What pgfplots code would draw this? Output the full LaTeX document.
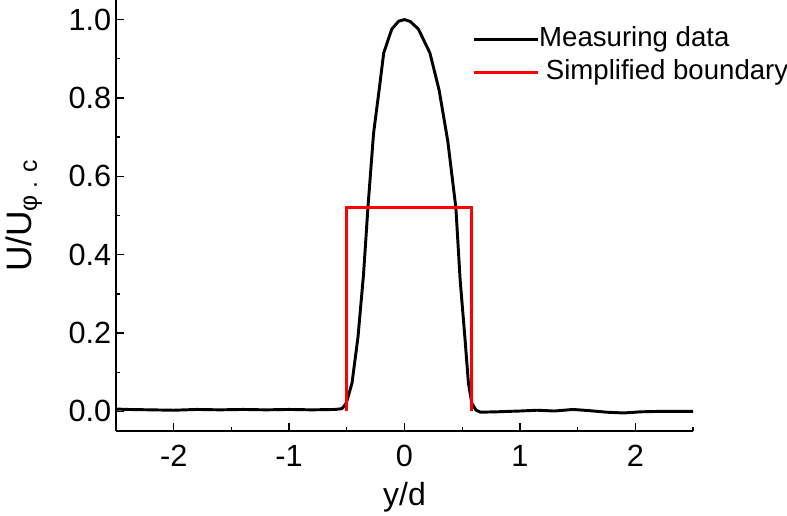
\documentclass[border=0pt]{standalone}
\usepackage{fontspec}
\setmainfont{Liberation Sans}
\usepackage{pgfplots}
\pgfplotsset{compat=1.18}

\pgfplotstableread{
x y
-2.50 0.006
-2.40 0.005
-2.20 0.004
-2.00 0.003
-1.80 0.005
-1.60 0.004
-1.40 0.005
-1.20 0.004
-1.00 0.005
-0.80 0.004
-0.60 0.005
-0.542 0.007
-0.505 0.021
-0.455 0.072
-0.403 0.19
-0.355 0.35
-0.317 0.52
-0.268 0.71
-0.22 0.82
-0.18 0.915
-0.11 0.976
-0.05 0.996
0.00 1.000
0.05 0.995
0.12 0.976
0.22 0.915
0.30 0.82
0.375 0.69
0.445 0.52
0.482 0.336
0.523 0.19
0.554 0.072
0.583 0.021
0.62 0.003
0.66 -0.002
0.80 -0.001
1.00 0.001
1.15 0.003
1.30 0.001
1.46 0.005
1.60 0.002
1.75 -0.002
1.90 -0.004
2.05 -0.001
2.20 0.000
2.50 0.000
}\measured

\pgfplotstableread{
x y
-0.505 0.0
-0.505 0.52
0.583 0.52
0.583 0.0
}\boundary

\begin{document}
\begin{tikzpicture}
\begin{axis}[
  name=ax,
  scale only axis,
  width=432.75pt, height=323.25pt,
  xmin=-2.5, xmax=2.5, ymin=-0.05, ymax=1.05,
  axis lines=left,
  axis line style={-, line width=1pt},
  xtick={-2,-1,0,1,2},
  ytick={0,0.2,0.4,0.6,0.8,1.0},
  minor xtick={-1.5,-0.5,0.5,1.5,2.5},
  minor ytick={0.1,0.3,0.5,0.7,0.9},
  tick align=inside,
  major tick length=6pt, minor tick length=3pt,
  tick style={black, line width=1pt},
  yticklabel style={/pgf/number format/.cd, fixed, fixed zerofill, precision=1},
  /pgf/number format/assume math mode=true,
  tick label style={font=\fontsize{23}{27}\selectfont},
  xticklabel style={yshift=-7pt},
  xlabel={y/d},
  ylabel={U/U\textsubscript{φ . c}},
  xlabel style={font=\fontsize{24}{29}\selectfont, at={(axis description cs:0.5,0)},
    anchor=center, yshift=-50pt, inner sep=0pt},
  ylabel style={font=\fontsize{26.5}{31}\selectfont, at={(axis description cs:-0.1594,0.5)},
    anchor=center, inner sep=0pt},
  legend style={at={(rel axis cs:0.617,0.94)}, anchor=north west, draw=none,
    fill=none, font=\fontsize{20.7}{24}\selectfont, inner sep=0pt,
    row sep=5.25pt, nodes={inner xsep=0pt, inner ysep=0pt, text height=15pt, text depth=4.5pt}},
  legend cell align=left,
  legend image code/.code={\draw[#1] (0pt,0pt) -- (48pt,0pt);},
]
\addplot[black, line width=2.2pt, line join=round] table[x=x, y=y] {\measured};
\addlegendentry{Measuring data}
\addplot[red, line width=2.2pt] table[x=x, y=y] {\boundary};
\addlegendentry{\hspace{5pt}Simplified boundary}
\end{axis}
\pgfresetboundingbox
\path[use as bounding box] ([xshift=-87pt, yshift=-63.75pt]ax.south west) rectangle ([xshift=70.5pt]ax.north east);
\end{tikzpicture}
\end{document}
